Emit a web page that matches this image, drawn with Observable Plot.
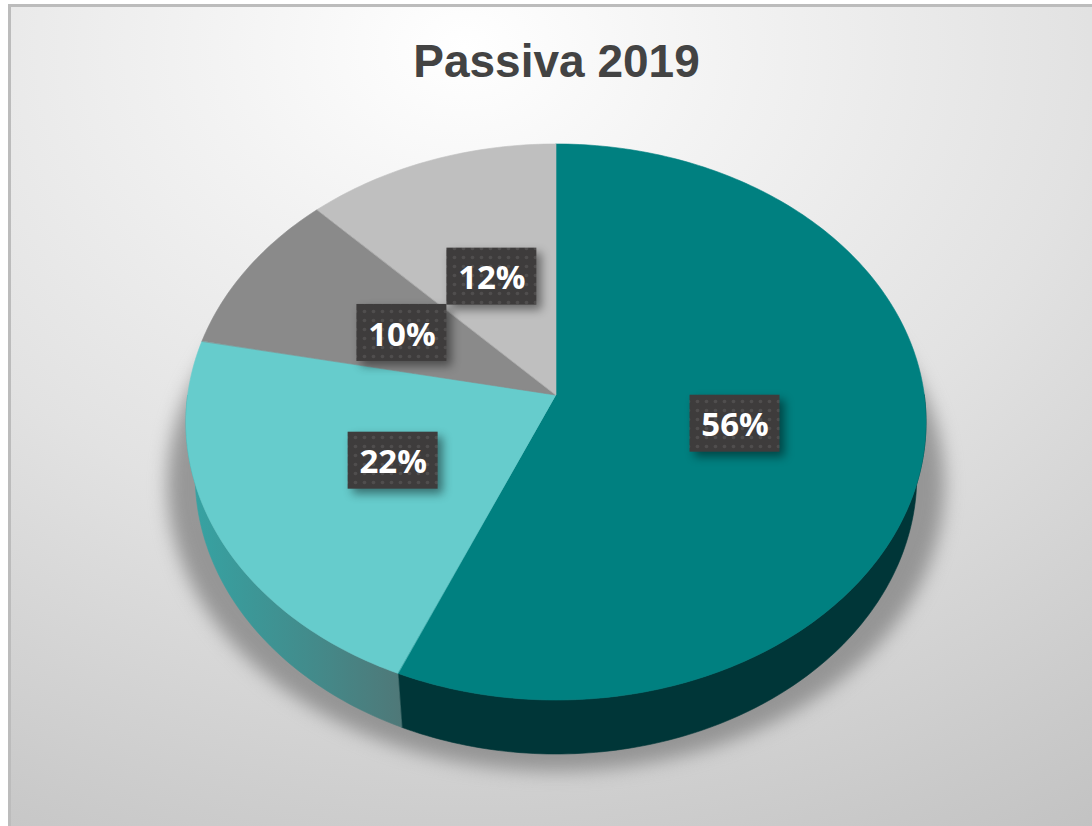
<!DOCTYPE html>
<html>
<head>
<meta charset="utf-8">
<script src="https://cdn.jsdelivr.net/npm/d3@7"></script>
<script src="https://cdn.jsdelivr.net/npm/@observablehq/plot@0.6"></script>
<style>
  html, body { margin: 0; padding: 0; background: #fff; overflow: hidden; }
  #page { position: relative; width: 1092px; height: 826px; overflow: hidden; }
  #panel {
    position: absolute; left: 8px; top: 4px; right: 0; bottom: 0; box-sizing: border-box;
    border-left: 3px solid #bcbcbc; border-top: 3px solid #bcbcbc;
    background: radial-gradient(ellipse 1250px 980px at 42% 5%, #ffffff 0%, #f3f3f3 20%, #e2e2e2 50%, #d2d2d2 72%, #bebebe 100%);
  }
  h1 {
    position: absolute; left: 0; top: 34px; width: 1092px; height: 60px; margin: 0;
    padding-left: 21px; box-sizing: border-box; text-align: center;
    font: bold 46px/54px "Liberation Sans", Arial, sans-serif; color: #434343;
  }
  #chart { position: absolute; left: 0; top: 100px; }
  #chart svg { display: block; background: transparent; }
</style>
</head>
<body>
<div id="page">
  <div id="panel"></div>
  <h1>Passiva 2019</h1>
  <div id="chart"></div>
</div>
<script>
// Data
const categories = ["A", "B", "C", "D"];
const shares = [56.4, 21.8, 9.6, 12.2];
const topColors = ["#008080", "#66cccc", "#8a8a8a", "#bfbfbf"];
const wallColors = ["#003638", "url(#wall2)", "#5a5a5a", "#808080"];

// Tilted-disc geometry (plot units are pixels from the apex of the pie)
const tilt = {k: 0.0971, a: 275.4, b: 368.3, depth: 54, bottomScale: 0.975, labelRadius: 0.49};
const rad = d => d * Math.PI / 180;
function project(deg, r = 1) {
  const u = Math.sin(rad(deg)) * r, v = Math.cos(rad(deg)) * r, w = 1 + tilt.k * v;
  return {x: tilt.b * u / w, y: -tilt.a * v / w};
}
function arcAngles(a, b) {
  const n = Math.max(2, Math.ceil(b - a));
  return d3.range(n + 1).map(i => a + (b - a) * i / n);
}

let acc = 0;
const slices = shares.map((s, i) => {
  const start = acc; acc += s;
  return {name: categories[i], share: s, start: start * 3.6, end: acc * 3.6,
          label: Math.round(s) + "%", top: topColors[i], wall: wallColors[i]};
});

const topMark = s => Plot.area(arcAngles(s.start, s.end).map(d => project(d)), {
  x1: () => 0, y1: () => 0, x2: "x", y2: "y", fill: s.top, stroke: s.top, strokeWidth: 0.6
});
const wallMark = s => {
  const a = Math.max(s.start, 90), b = Math.min(s.end, 270);
  if (b <= a) return null;
  const pts = arcAngles(a, b).map(d => {
    const p = project(d);
    return {x1: p.x, y1: p.y, x2: p.x * tilt.bottomScale, y2: p.y + tilt.depth};
  });
  return Plot.area(pts, {x1: "x1", y1: "y1", x2: "x2", y2: "y2", fill: s.wall, stroke: s.wall, strokeWidth: 0.6});
};

const shadowPts = arcAngles(0, 360).map(d => {
  const p = project(d);
  return {x: p.x * 1.05, y: p.y * 1.03 + 62};
});

const boxW = 90, boxH = 57;
const labels = slices.map(s => {
  const p = project((s.start + s.end) / 2, tilt.labelRadius);
  return {label: s.label, x: p.x, y: p.y};
});

const defs = () => {
  const svg = d3.create("svg:defs");
  const g = svg.append("linearGradient").attr("id", "wall2")
    .attr("gradientUnits", "userSpaceOnUse")
    .attr("x1", 190).attr("x2", 402).attr("y1", 0).attr("y2", 0);
  g.append("stop").attr("offset", "0%").attr("stop-color", "#36a3a3");
  g.append("stop").attr("offset", "55%").attr("stop-color", "#428c8c");
  g.append("stop").attr("offset", "100%").attr("stop-color", "#4f7878");
  const p = svg.append("pattern").attr("id", "dots").attr("patternUnits", "userSpaceOnUse")
    .attr("width", 9).attr("height", 9);
  p.append("rect").attr("width", 9).attr("height", 9).attr("fill", "#3e3c3c");
  p.append("circle").attr("cx", 4.5).attr("cy", 4.5).attr("r", 1.8).attr("fill", "#504e4e");
  return svg.node();
};

const chart = Plot.plot({
  width: 1092,
  height: 726,
  margin: 0,
  x: {domain: [-556, 536], range: [0, 1092], axis: null},
  y: {domain: [-295, 431], range: [0, 726], axis: null},
  style: {background: "transparent"},
  marks: [
    defs,
    Plot.area(shadowPts, {x1: () => 0, y1: () => 62, x2: "x", y2: "y", fill: "#8a8a8a", fillOpacity: 0.85, imageFilter: "blur(9px)"}),
    ...slices.map(wallMark).filter(Boolean),
    ...slices.map(topMark),
    Plot.rect(labels, {
      x1: d => d.x - boxW / 2, x2: d => d.x + boxW / 2,
      y1: d => d.y - boxH / 2 + 1, y2: d => d.y + boxH / 2 + 1,
      fill: "url(#dots)", imageFilter: "drop-shadow(5px 5px 5px rgba(0,0,0,0.45))"
    }),
    Plot.text(labels, {
      x: "x", y: d => d.y + 3, text: "label", fill: "#ffffff", fontSize: 33, fontWeight: 700,
      fontFamily: "'Open Sans', sans-serif", textAnchor: "middle", lineAnchor: "middle"
    })
  ]
});
document.getElementById("chart").appendChild(chart);
</script>
</body>
</html>
